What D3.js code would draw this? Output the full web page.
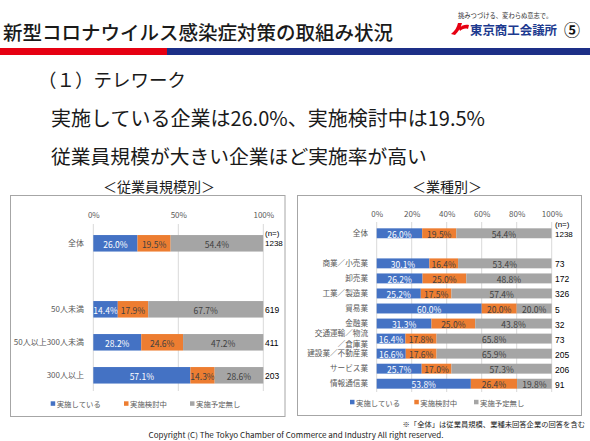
<!DOCTYPE html>
<html><head><meta charset="utf-8">
<script src="https://cdn.jsdelivr.net/npm/d3@7"></script>
<style>
html,body{margin:0;padding:0;background:#fff;}
svg{display:block;font-family:"Noto Sans CJK JP","Noto Sans",sans-serif;}
</style></head>
<body>
<svg id="c" width="590" height="441"></svg>
<script>
// ---- data ----
const seriesNames = ["実施している", "実施検討中", "実施予定無し"];
const seriesColors = ["#4472c4", "#ed7d31", "#a5a5a5"];

const sizeCategories = ["全体", "50人未満", "50人以上300人未満", "300人以上"];
const sizeDoing = [26.0, 14.4, 28.2, 57.1];
const sizeConsidering = [19.5, 17.9, 24.6, 14.3];
const sizeNone = [54.4, 67.7, 47.2, 28.6];
const sizeN = ["1238", "619", "411", "203"];

const industryCategories = ["全体", "商業／小売業", "卸売業", "工業／製造業", "貿易業", "金融業",
  "交通運輸／物流／倉庫業", "建設業／不動産業", "サービス業", "情報通信業"];
const industryDoing = [26.0, 30.1, 26.2, 25.2, 60.0, 31.3, 16.4, 16.6, 25.7, 53.8];
const industryConsidering = [19.5, 16.4, 25.0, 17.5, 20.0, 25.0, 17.8, 17.6, 17.0, 26.4];
const industryNone = [54.4, 53.4, 48.8, 57.4, 20.0, 43.8, 65.8, 65.9, 57.3, 19.8];
const industryN = ["1238", "73", "172", "326", "5", "32", "73", "205", "206", "91"];

const sizeTicks = [0, 50, 100];
const industryTicks = [0, 20, 40, 60, 80, 100];

const svg = d3.select("#c");
const FONT = '"Noto Sans CJK JP","Noto Sans",sans-serif';
const NFONT = '"Liberation Sans","DejaVu Sans",sans-serif';

// ---- header ----
svg.append("text").attr("x", 3).attr("y", 31).attr("dominant-baseline", "central")
  .attr("font-size", 19.5).attr("fill", "#1a1a1a").attr("font-weight", 500)
  .text("新型コロナウイルス感染症対策の取組み状況");
svg.append("rect").attr("x", 0).attr("y", 48).attr("width", 167).attr("height", 7).attr("fill", "#e60012");
svg.append("rect").attr("x", 167).attr("y", 48).attr("width", 423).attr("height", 7).attr("fill", "#1d2f87");

// logo
svg.append("text").attr("x", 458).attr("y", 15).attr("dominant-baseline", "central")
  .attr("font-size", 6.3).attr("fill", "#333").text("挑みつづける、変わらぬ意志で。");
svg.append("path").attr("d", "M451,34 C455,31 457,27 458,23 L462,23 C461,28 458,32 455,35 Z M459,28 C462,25 466,24 469,25 L468,29 C465,28 462,29 460,31 Z")
  .attr("fill", "#e60012");
svg.append("text").attr("x", 470).attr("y", 29).attr("dominant-baseline", "central")
  .attr("font-size", 12.5).attr("font-weight", 700).attr("fill", "#1d3a8f")
  .attr("textLength", 87).attr("lengthAdjust", "spacingAndGlyphs").text("東京商工会議所");
svg.append("text").attr("x", 572).attr("y", 29).attr("dominant-baseline", "central").attr("text-anchor", "middle")
  .attr("font-size", 16).attr("font-weight", 700).attr("fill", "#111").text("⑤");

// headline lines
svg.append("text").attr("x", 38).attr("y", 79).attr("dominant-baseline", "central")
  .attr("font-size", 18.5).attr("fill", "#1a1a1a").text("（１）テレワーク");
svg.append("text").attr("x", 51).attr("y", 117).attr("dominant-baseline", "central")
  .attr("font-size", 20).attr("fill", "#1a1a1a").text("実施している企業は26.0%、実施検討中は19.5%");
svg.append("text").attr("x", 51).attr("y", 155).attr("dominant-baseline", "central")
  .attr("font-size", 19.8).attr("fill", "#1a1a1a").text("従業員規模が大きい企業ほど実施率が高い");

// ---- chart builder ----
function drawChart(cfg) {
  const g = svg.append("g");
  g.append("rect").attr("x", cfg.box[0]).attr("y", cfg.box[1]).attr("width", cfg.box[2]).attr("height", cfg.box[3])
    .attr("fill", "#fff").attr("stroke", "#a6a6a6").attr("stroke-width", 1);
  g.append("text").attr("x", cfg.titleX).attr("y", 185.5).attr("text-anchor", "middle").attr("dominant-baseline", "central")
    .attr("font-size", 14).attr("fill", "#1a1a1a").text(cfg.title);

  const x = d3.scaleLinear().domain([0, 100]).range(cfg.xRange);
  const domain = [cfg.cats[0], "__gap__", ...cfg.cats.slice(1)];
  const y = d3.scaleBand().domain(domain).range(cfg.yRange).paddingInner(cfg.pi).paddingOuter(cfg.po);

  // grid
  g.selectAll(".grid").data(cfg.ticks).join("line")
    .attr("x1", d => x(d)).attr("x2", d => x(d))
    .attr("y1", cfg.gridY[0]).attr("y2", cfg.gridY[1])
    .attr("stroke", "#d9d9d9").attr("stroke-width", 1);

  // axis tick labels via d3 axis
  const axis = d3.axisTop(x).tickValues(cfg.ticks).tickFormat(d => d + "%").tickSize(0).tickPadding(0);
  const ag = g.append("g").attr("transform", `translate(0,${cfg.tickY})`).call(axis);
  ag.select(".domain").remove();
  ag.selectAll("text").attr("font-family", FONT).attr("font-size", 8).attr("fill", "#595959")
    .attr("dominant-baseline", "central").attr("dy", null).attr("y", 0);

  const rows = cfg.cats.map((c, i) => ({cat: c, v0: cfg.v[0][i], v1: cfg.v[1][i], v2: cfg.v[2][i], n: cfg.n[i]}));
  const stack = d3.stack().keys(["v0", "v1", "v2"])(rows);

  stack.forEach((layer, si) => {
    const lg = g.append("g");
    lg.selectAll("rect").data(layer).join("rect")
      .attr("x", d => x(d[0])).attr("width", d => x(d[1]) - x(d[0]))
      .attr("y", d => y(d.data.cat)).attr("height", y.bandwidth())
      .attr("fill", seriesColors[si]);
    lg.selectAll("text").data(layer).join("text")
      .attr("x", d => (x(d[0]) + x(d[1])) / 2).attr("y", d => y(d.data.cat) + y.bandwidth() / 2 + 0.5)
      .attr("text-anchor", "middle").attr("dominant-baseline", "central")
      .attr("font-size", cfg.labelSize).attr("fill", si === 0 ? "#ffffff" : "#404040")
      .text(d => (d[1] - d[0]).toFixed(1) + "%");
  });

  // category labels and n
  rows.forEach((r, i) => {
    const cy = y(r.cat) + y.bandwidth() / 2;
    const parts = r.cat === "交通運輸／物流／倉庫業" ? ["交通運輸／物流", "／倉庫業"] : [r.cat];
    const ct = g.append("text").attr("text-anchor", "end")
      .attr("font-size", cfg.catSize).attr("fill", "#595959");
    parts.forEach((p, k) => {
      ct.append("tspan").attr("x", cfg.catX)
        .attr("y", cy + (k - (parts.length - 1) / 2) * 10.5 + cfg.catSize * 0.36).text(p);
    });
    if (i === 0) {
      g.append("text").attr("x", cfg.nX).attr("y", cy - cfg.nOff).attr("dominant-baseline", "central")
        .attr("font-family", NFONT).attr("font-size", 8).attr("fill", "#000").text("(n=)");
      g.append("text").attr("x", cfg.nX).attr("y", cy + cfg.nOff2).attr("dominant-baseline", "central")
        .attr("font-family", NFONT).attr("font-size", 8).attr("fill", "#000").text(r.n);
    } else {
      g.append("text").attr("x", cfg.nX).attr("y", cy + 1).attr("dominant-baseline", "central")
        .attr("font-family", NFONT).attr("font-size", 8.5).attr("fill", "#000").text(r.n);
    }
  });

  // legend
  seriesNames.forEach((s, i) => {
    g.append("rect").attr("x", cfg.legX[i]).attr("y", cfg.legY - 2.2).attr("width", 4.5).attr("height", 4.5).attr("fill", seriesColors[i]);
    g.append("text").attr("x", cfg.legX[i] + 6).attr("y", cfg.legY).attr("dominant-baseline", "central")
      .attr("font-size", 7.4).attr("fill", "#595959").text(s);
  });
}

drawChart({
  box: [10.5, 195.5, 274.5, 221], title: "＜従業員規模別＞", titleX: 159,
  xRange: [93.3, 263.3], yRange: [226.8, 391.8], pi: 0.5, po: 0.25,
  gridY: [224, 391], ticks: sizeTicks, tickY: 214,
  cats: sizeCategories, v: [sizeDoing, sizeConsidering, sizeNone], n: sizeN,
  labelSize: 8.5, catX: 84, catSize: 8, nX: 265, nOff: 9.8, nOff2: -0.3,
  legX: [50.7, 124, 190], legY: 403.5
});

drawChart({
  box: [297.5, 195.5, 284, 220], title: "＜業種別＞", titleX: 447,
  xRange: [376.7, 551.7], yRange: [220.8, 396.2], pi: 0.34, po: 0.5,
  gridY: [222, 392], ticks: industryTicks, tickY: 213.3,
  cats: industryCategories, v: [industryDoing, industryConsidering, industryNone], n: industryN,
  labelSize: 8.5, catX: 368, catSize: 7.6, nX: 555, nOff: 8.6, nOff2: 1,
  legX: [350, 414.3, 474], legY: 402
});

// ---- footer ----
svg.append("text").attr("x", 585).attr("y", 424).attr("text-anchor", "end").attr("dominant-baseline", "central")
  .attr("font-size", 7.3).attr("fill", "#222").text("※「全体」は従業員規模、業種未回答企業の回答を含む");
svg.append("text").attr("x", 148.5).attr("y", 434).attr("dominant-baseline", "central")
  .attr("font-size", 7.8).attr("fill", "#222").attr("textLength", 295).attr("lengthAdjust", "spacingAndGlyphs")
  .text("Copyright (C)  The Tokyo Chamber of Commerce and Industry All right reserved.");
</script>
</body></html>
